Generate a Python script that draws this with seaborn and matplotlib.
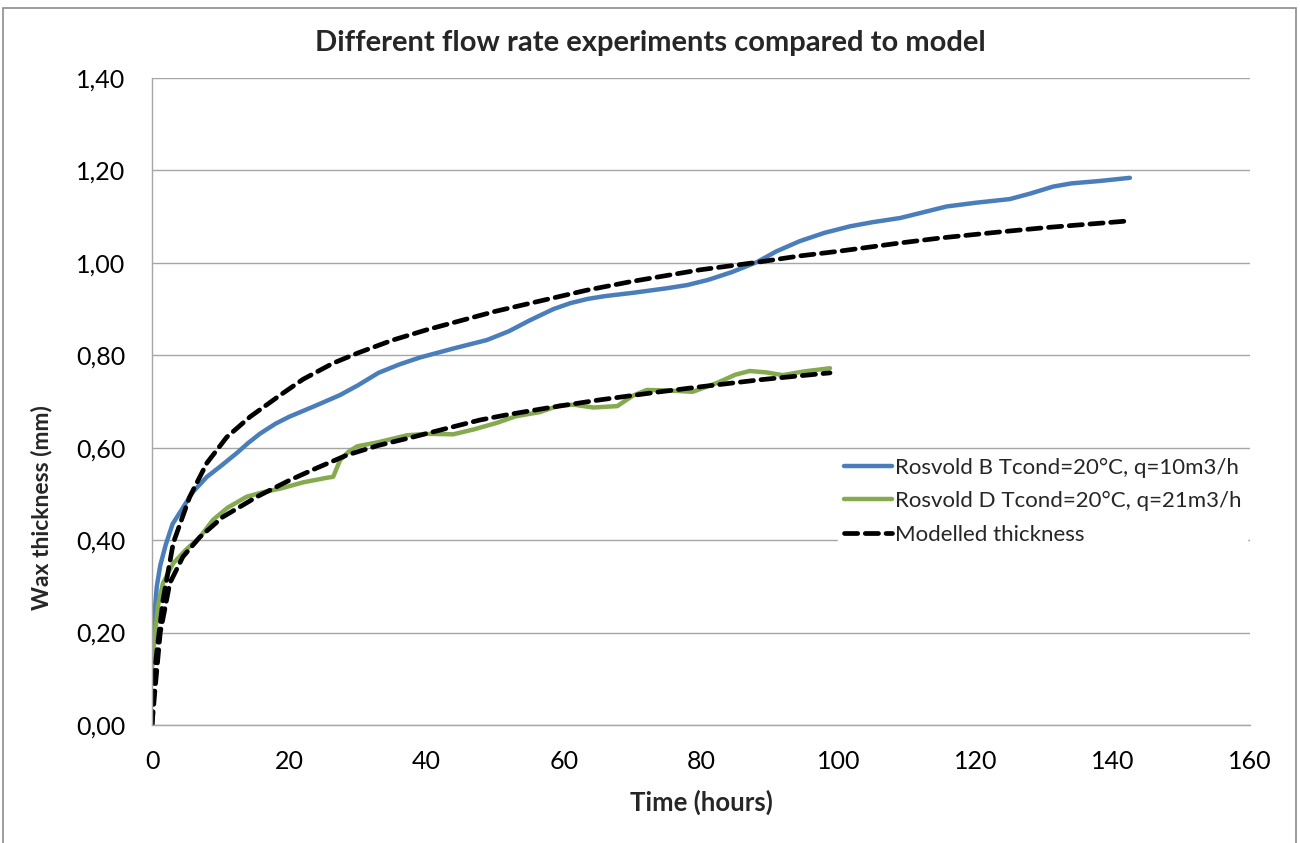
import matplotlib
matplotlib.use("Agg")
import matplotlib.pyplot as plt
import seaborn as sns
import pandas as pd
from matplotlib.ticker import FuncFormatter
from matplotlib.patches import Rectangle

# ---- data ----
blue_label = "Rosvold B Tcond=20°C, q=10m3/h"
green_label = "Rosvold D Tcond=20°C, q=21m3/h"
model_label = "Modelled thickness"

blue_t = [0, 0.3, 0.7, 1.2, 2, 3, 4.5, 6, 8, 10, 12.4, 14, 15.7, 18, 20, 24, 27.4, 30,
          33, 36, 39, 44, 48.8, 52, 55.1, 58.5, 61, 63.5, 66, 70, 75, 78, 81, 84.5,
          88.2, 91, 94.4, 98, 101.7, 105, 109, 112, 115.8, 120, 125, 128, 131.3, 134,
          138, 142.5]
blue_v = [0.14, 0.23, 0.3, 0.345, 0.39, 0.435, 0.47, 0.505, 0.537, 0.56, 0.589, 0.61,
          0.63, 0.652, 0.667, 0.692, 0.714, 0.735, 0.762, 0.78, 0.795, 0.815, 0.833,
          0.852, 0.876, 0.9, 0.913, 0.922, 0.928, 0.935, 0.945, 0.952, 0.963, 0.98,
          1.002, 1.025, 1.047, 1.065, 1.079, 1.088, 1.097, 1.108, 1.122, 1.13, 1.138,
          1.15, 1.165, 1.172, 1.177, 1.184]

green_t = [0, 0.4, 0.9, 1.6, 3.1, 5, 7, 8.9, 11, 13.8, 16, 19.1, 22, 25.5, 26.4, 27.4,
           28.7, 29.9, 33, 37.2, 40, 43.9, 47, 50.3, 53, 56.5, 59.5, 61.5, 64.3, 67.8,
           70, 72.1, 75, 78.8, 82.3, 85, 87.1, 89.5, 91.9, 95, 98.8]
green_v = [0.12, 0.19, 0.26, 0.307, 0.35, 0.38, 0.407, 0.444, 0.47, 0.494, 0.503, 0.513,
           0.525, 0.535, 0.537, 0.573, 0.592, 0.603, 0.612, 0.627, 0.63, 0.629, 0.64,
           0.654, 0.668, 0.677, 0.692, 0.693, 0.687, 0.69, 0.712, 0.725, 0.724, 0.721,
           0.74, 0.758, 0.766, 0.763, 0.757, 0.765, 0.772]

model1_t = [0, 0.44, 1.6, 3.1, 5.5, 8, 10.9, 14.3, 18.7, 22, 26.4, 30, 35.1, 40, 50,
            63.4, 70, 79.9, 87.6, 94.4, 100, 109, 115, 123.6, 130, 142.5]
model1_v = [0.0, 0.126, 0.27, 0.394, 0.494, 0.567, 0.623, 0.667, 0.714, 0.748, 0.783,
            0.805, 0.833, 0.855, 0.895, 0.941, 0.96, 0.985, 1.0, 1.015, 1.025, 1.043,
            1.054, 1.067, 1.076, 1.091]

model2_t = [0, 0.4, 1.2, 2.6, 4.5, 7, 10.3, 15.3, 20.1, 24, 28.4, 33, 38, 43, 47.8,
            52, 57.6, 65, 74, 80, 88.6, 94, 98.8]
model2_v = [0.0, 0.07, 0.2, 0.307, 0.364, 0.407, 0.45, 0.494, 0.53, 0.556, 0.584, 0.605,
            0.623, 0.642, 0.66, 0.672, 0.686, 0.703, 0.721, 0.732, 0.747, 0.755, 0.762]

y_ticks = [0.0, 0.2, 0.4, 0.6, 0.8, 1.0, 1.2, 1.4]
x_ticks = [0, 20, 40, 60, 80, 100, 120, 140, 160]

title = "Different flow rate experiments compared to model"
xlabel = "Time (hours)"
ylabel = "Wax thickness (mm)"

# ---- style ----
sns.set_style("white")
plt.rcParams['font.family'] = ['Lato', 'DejaVu Sans']

fig = plt.figure(figsize=(13, 8.43), dpi=100)
ax = fig.add_axes([152/1300, 1-725/843, (1250-152)/1300, (725-78)/843])

blue_df = pd.DataFrame({"t": blue_t, "v": blue_v})
green_df = pd.DataFrame({"t": green_t, "v": green_v})
m1_df = pd.DataFrame({"t": model1_t, "v": model1_v})
m2_df = pd.DataFrame({"t": model2_t, "v": model2_v})

sns.lineplot(data=blue_df, x="t", y="v", ax=ax, color="#4a7ebb", lw=3.2,
             label=blue_label, solid_capstyle="round", solid_joinstyle="round")
sns.lineplot(data=green_df, x="t", y="v", ax=ax, color="#86aa4f", lw=3.2,
             label=green_label, solid_capstyle="round", solid_joinstyle="round")
sns.lineplot(data=m1_df, x="t", y="v", ax=ax, color="black", lw=3.4,
             label=model_label)
sns.lineplot(data=m2_df, x="t", y="v", ax=ax, color="black", lw=3.4,
             label="_nolegend_")
for ln in ax.get_lines()[2:4]:
    ln.set_linestyle((0, (2.8, 1.6)))
    ln.set_dash_capstyle("round")

ax.set_xlim(0, 160)
ax.set_ylim(0, 1.4)
ax.set_xticks(x_ticks)
ax.set_yticks(y_ticks)
ax.yaxis.set_major_formatter(FuncFormatter(lambda v, p: f"{v:.2f}".replace(".", ",")))
ax.xaxis.set_major_formatter(FuncFormatter(lambda v, p: f"{v:.0f}"))
ax.grid(axis="y", color="#a6a6a6", lw=1)
ax.grid(axis="x", visible=False)
ax.set_axisbelow(True)
for s in ["top", "right"]:
    ax.spines[s].set_visible(False)
for s in ["left", "bottom"]:
    ax.spines[s].set_color("#a6a6a6")
    ax.spines[s].set_linewidth(1)
ax.tick_params(axis="both", direction="out", length=7, width=1, color="#a6a6a6",
               labelsize=18, labelcolor="black")
ax.tick_params(axis="y", pad=12)
ax.tick_params(axis="x", pad=11)

ax.set_xlabel(xlabel, fontsize=18.5, fontweight="bold", labelpad=12)
ax.set_ylabel(ylabel, fontsize=16.5, fontweight="bold")
ax.yaxis.set_label_coords(-(152-52)/1098, (725-508)/647)
fig.text(650/1300, 1-43/843, title, ha="center", va="center", fontsize=21,
         fontweight="bold")

leg = ax.legend(loc="upper left", bbox_to_anchor=((838-152)/1098, (725-452)/647),
                frameon=True, fontsize=16, handlelength=2.2, handletextpad=0.1,
                labelspacing=0.6, borderaxespad=0, borderpad=0.25)
leg.get_frame().set_facecolor("white")
leg.get_frame().set_edgecolor("white")
leg.get_frame().set_alpha(1)
leg.get_frame().set_boxstyle("square", pad=0)

fig.patches.append(Rectangle((3/1300, -0.01), 1293/1300, 1-8/843+0.01,
                             transform=fig.transFigure, fill=False,
                             edgecolor="#8c8c8c", lw=1.2))

fig.savefig("out.png", dpi=100)
